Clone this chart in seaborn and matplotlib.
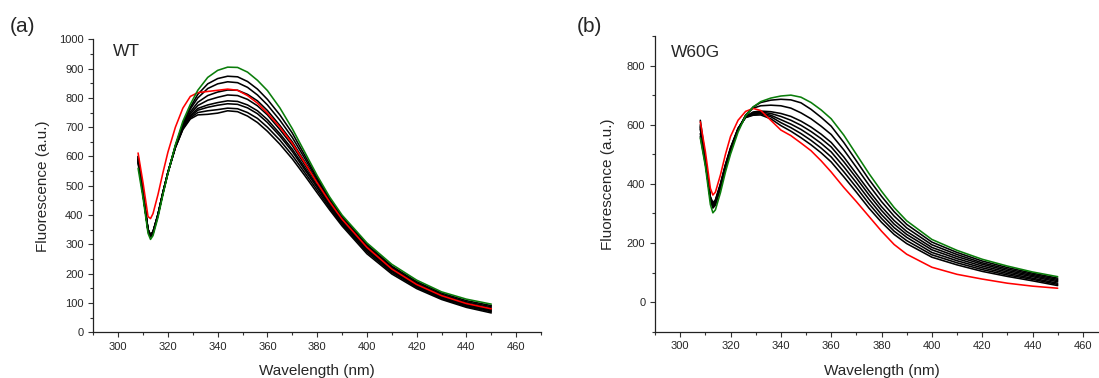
import numpy as np
import pandas as pd
import matplotlib
matplotlib.use("Agg")
import matplotlib.pyplot as plt
from matplotlib.ticker import MultipleLocator
import seaborn as sns

# wavelength grid (nm) shared by all spectra
wavelength = [308, 310, 312, 313, 314, 316, 318, 320, 323, 326, 329, 332, 336, 340,
              344, 348, 352, 356, 360, 365, 370, 375, 380, 385, 390, 400, 410, 420,
              430, 440, 450]

# ---- panel (a): WT ----
wt_red = [612, 510, 395, 388, 405, 470, 545, 615, 700, 765, 805, 818, 822, 826, 830, 826,
          808, 782, 748, 700, 645, 578, 510, 445, 386, 290, 216, 163, 125, 98, 80]
wt_green = [560, 458, 338, 317, 330, 392, 470, 542, 640, 720, 778, 826, 870, 894, 905, 904,
            888, 860, 825, 766, 695, 615, 535, 462, 400, 305, 232, 178, 138, 113, 96]
wt_k1 = [595, 475, 345, 325, 336, 398, 474, 544, 636, 712, 768, 812, 848, 866, 874, 872,
         856, 830, 795, 742, 680, 604, 528, 456, 396, 300, 226, 173, 134, 108, 91]
wt_k2 = [590, 472, 347, 327, 338, 400, 476, 545, 636, 710, 762, 800, 832, 848, 855, 852,
         836, 810, 776, 724, 665, 594, 522, 450, 391, 296, 222, 169, 130, 104, 87]
wt_k3 = [600, 478, 350, 330, 341, 402, 478, 546, 636, 706, 752, 785, 808, 820, 827, 826,
         812, 790, 757, 706, 650, 582, 515, 445, 386, 292, 218, 165, 127, 100, 83]
wt_k4 = [585, 470, 348, 328, 339, 400, 476, 545, 634, 702, 746, 774, 792, 802, 810, 808,
         795, 773, 742, 692, 638, 572, 508, 440, 381, 288, 215, 162, 124, 97, 79]
wt_k5 = [590, 472, 350, 331, 342, 402, 477, 546, 633, 698, 740, 764, 776, 784, 790, 788,
         776, 756, 726, 678, 625, 562, 500, 434, 376, 283, 211, 159, 121, 94, 76]
wt_k6 = [578, 468, 349, 330, 341, 401, 476, 545, 632, 696, 736, 758, 768, 775, 780, 778,
         766, 746, 716, 670, 617, 555, 494, 430, 372, 279, 208, 156, 118, 91, 73]
wt_k7 = [600, 478, 352, 333, 344, 403, 478, 546, 631, 694, 732, 750, 756, 760, 765, 763,
         750, 730, 700, 656, 604, 545, 485, 424, 368, 274, 204, 153, 115, 88, 70]
wt_k8 = [582, 470, 351, 332, 343, 402, 477, 545, 630, 692, 728, 742, 744, 748, 756, 753,
         738, 716, 686, 642, 592, 535, 476, 418, 363, 268, 199, 149, 112, 85, 66]

# ---- panel (b): W60G ----
mut_red = [610, 510, 385, 362, 372, 430, 500, 560, 615, 645, 655, 648, 615, 582, 563, 538,
           512, 478, 440, 388, 340, 290, 240, 195, 162, 118, 94, 78, 64, 54, 47]
mut_green = [555, 460, 330, 302, 312, 370, 440, 500, 575, 630, 660, 678, 690, 697, 700, 693,
             675, 650, 620, 565, 500, 435, 375, 320, 275, 212, 175, 145, 122, 102, 86]
mut_k1 = [600, 480, 345, 318, 328, 385, 452, 510, 582, 632, 660, 675, 683, 686, 684, 674,
          652, 625, 595, 540, 478, 415, 358, 306, 263, 203, 168, 139, 117, 98, 81]
mut_k2 = [615, 490, 350, 322, 332, 389, 455, 512, 583, 632, 656, 664, 666, 664, 656, 640,
          620, 595, 567, 515, 456, 396, 340, 291, 251, 194, 161, 133, 112, 94, 77]
mut_k3 = [585, 475, 348, 324, 334, 392, 458, 515, 584, 628, 643, 646, 644, 638, 628, 612,
          592, 568, 540, 491, 434, 377, 323, 276, 239, 185, 154, 128, 107, 90, 73]
mut_k4 = [595, 478, 350, 327, 337, 394, 460, 516, 585, 627, 640, 643, 638, 628, 615, 598,
          577, 553, 525, 475, 420, 363, 310, 264, 229, 177, 147, 122, 102, 86, 69]
mut_k5 = [570, 470, 352, 330, 340, 396, 462, 518, 586, 626, 637, 640, 632, 617, 602, 584,
          562, 537, 508, 458, 404, 348, 296, 252, 219, 168, 140, 116, 97, 81, 64]
mut_k6 = [590, 476, 355, 333, 343, 398, 464, 520, 587, 625, 634, 637, 627, 607, 590, 570,
          547, 521, 491, 441, 388, 333, 283, 240, 208, 160, 133, 110, 92, 77, 60]
mut_k7 = [560, 468, 356, 336, 346, 400, 466, 522, 588, 624, 632, 633, 620, 597, 578, 556,
          532, 505, 474, 424, 372, 318, 270, 229, 198, 152, 126, 104, 87, 72, 56]


def long_table(curves):
    frames = []
    for name, vals in curves.items():
        frames.append(pd.DataFrame({"wl": wavelength, "fl": vals, "curve": name}))
    return pd.concat(frames, ignore_index=True)


wt_curves = {"k1": wt_k1, "k2": wt_k2, "k3": wt_k3, "k4": wt_k4, "k5": wt_k5,
             "k6": wt_k6, "k7": wt_k7, "k8": wt_k8, "red": wt_red, "green": wt_green}
mut_curves = {"k1": mut_k1, "k2": mut_k2, "k3": mut_k3, "k4": mut_k4, "k5": mut_k5,
              "k6": mut_k6, "k7": mut_k7, "red": mut_red, "green": mut_green}

sns.set_style("ticks")
plt.rcParams["font.family"] = ["Liberation Sans", "DejaVu Sans"]

fig = plt.figure(figsize=(10.99, 3.78), dpi=100)
ax_a = fig.add_axes([0.0849, 0.121, 0.4074, 0.775])
ax_b = fig.add_axes([0.596, 0.1225, 0.4122, 0.7823])


def draw_panel(ax, curves, ylim, ymajor, yminor, tag, label_pos, ylab_x):
    df = long_table(curves)
    order = list(curves.keys())
    pal = {n: "black" for n in order}
    pal["red"] = "#ff0000"
    pal["green"] = "#0a7d0a"
    sns.lineplot(data=df, x="wl", y="fl", hue="curve", hue_order=order,
                 palette=pal, legend=False, errorbar=None, lw=1.15, ax=ax)
    ax.set_xlim(290, 470)
    ax.set_ylim(*ylim)
    ax.xaxis.set_major_locator(MultipleLocator(20))
    ax.xaxis.set_minor_locator(MultipleLocator(10))
    ax.yaxis.set_major_locator(MultipleLocator(ymajor))
    ax.yaxis.set_minor_locator(MultipleLocator(yminor))
    ax.tick_params(which="major", direction="out", length=3.5, width=0.8,
                   labelsize=8, pad=3.5, color="#333333")
    ax.tick_params(which="minor", direction="out", length=2, width=0.8, color="#333333")
    for s in ["top", "right"]:
        ax.spines[s].set_visible(False)
    for s in ["left", "bottom"]:
        ax.spines[s].set_linewidth(0.9)
        ax.spines[s].set_color("#222222")
    ax.set_xlabel("Wavelength (nm)", fontsize=11)
    ax.set_ylabel("Fluorescence (a.u.)", fontsize=11)
    ax.xaxis.set_label_coords(0.5, -0.11)
    ax.yaxis.set_label_coords(ylab_x, 0.5)
    ax.text(label_pos[0], label_pos[1], tag, transform=ax.transAxes,
            fontsize=12.5, ha="left", va="center")


draw_panel(ax_a, wt_curves, (0, 1000), 100, 50, "WT", (0.044, 0.958), -0.097)
draw_panel(ax_b, mut_curves, (-100, 900), 200, 100, "W60G", (0.035, 0.944), -0.088)

fig.text(0.009, 0.931, "(a)", fontsize=15, ha="left", va="center")
fig.text(0.525, 0.931, "(b)", fontsize=15, ha="left", va="center")

fig.savefig("out.png", dpi=100)
